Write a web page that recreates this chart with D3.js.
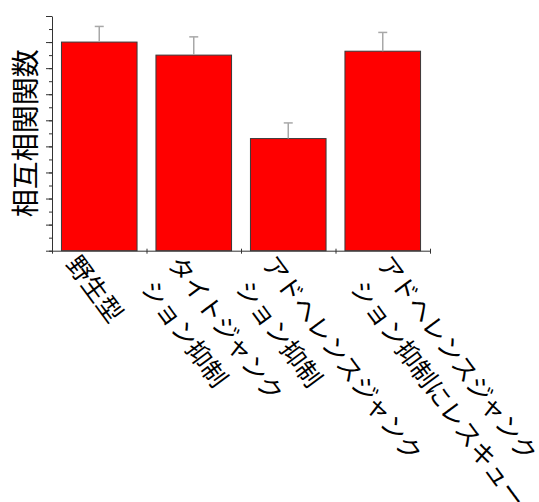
<!DOCTYPE html>
<html>
<head>
<meta charset="utf-8">
<script src="https://cdnjs.cloudflare.com/ajax/libs/d3/7.8.5/d3.min.js"></script>
<style>
  body { margin: 0; background: #fff; }
  text { font-family: "Noto Sans CJK JP", "Noto Sans", sans-serif; fill: #000; }
  .axis path, .axis line { stroke: #333; }
</style>
</head>
<body>
<div id="chart"></div>
<script>

        // data
        var categories = ["野生型", "タイトジャンクション抑制", "アドヘレンスジャンクション抑制", "アドヘレンスジャンクション抑制にレスキュー"];
        var labelLines = [
            ["野生型"],
            ["タイトジャンク", "ション抑制"],
            ["アドヘレンスジャンク", "ション抑制"],
            ["アドヘレンスジャンク", "ション抑制にレスキュー"]
        ];
        var values = [8.0, 7.5, 4.3, 7.65];
        var errors = [0.6, 0.7, 0.6, 0.72];
        var yTitle = "相互相関関数";

        var fullwidth = 539;
        var fullheight = 502;
        var margin = {top: 16, right: 109, bottom: 251.3, left: 52};

        var width = fullwidth - margin.left - margin.right;
        var height = fullheight - margin.top - margin.bottom;

        var svg = d3.select("#chart")
                    .append("svg")
                    .attr("width", fullwidth)
                    .attr("height", fullheight)
                    .append("g")
                    .attr("transform", "translate(" + margin.left + "," + margin.top + ")");

        var xScale = d3.scaleBand()
                        .domain(categories)
                        .range([0, width])
                        .paddingInner(0.2)
                        .paddingOuter(0.1);

        var yScale = d3.scaleLinear()
                        .domain([0, 9])
                        .range([height, 0]);

        // bars
        svg.selectAll("rect.bar")
            .data(categories)
            .enter()
            .append("rect")
            .attr("class", "bar")
            .attr("x", function(d) { return xScale(d); })
            .attr("y", function(d, i) { return yScale(values[i]); })
            .attr("width", xScale.bandwidth())
            .attr("height", function(d, i) { return height - yScale(values[i]); })
            .attr("fill", "#ff0000")
            .attr("stroke", "#3a3a3a")
            .attr("stroke-width", 1);

        // error bars (upper only)
        var errG = svg.selectAll("g.err")
            .data(categories)
            .enter()
            .append("g")
            .attr("class", "err")
            .attr("stroke", "#a8a8a8")
            .attr("stroke-width", 1.5);

        errG.append("line")
            .attr("x1", function(d) { return xScale(d) + xScale.bandwidth() / 2; })
            .attr("x2", function(d) { return xScale(d) + xScale.bandwidth() / 2; })
            .attr("y1", function(d, i) { return yScale(values[i]); })
            .attr("y2", function(d, i) { return yScale(values[i] + errors[i]); });

        errG.append("line")
            .attr("x1", function(d) { return xScale(d) + xScale.bandwidth() / 2 - 4.5; })
            .attr("x2", function(d) { return xScale(d) + xScale.bandwidth() / 2 + 4.5; })
            .attr("y1", function(d, i) { return yScale(values[i] + errors[i]); })
            .attr("y2", function(d, i) { return yScale(values[i] + errors[i]); });

        // y axis: major ticks every 1, minor every 0.5, no labels
        var yAxisMinor = d3.axisLeft(yScale)
                        .tickValues(d3.range(0, 9.01, 0.5))
                        .tickSize(3)
                        .tickSizeOuter(0)
                        .tickFormat("");

        var yAxisMajor = d3.axisLeft(yScale)
                        .tickValues(d3.range(0, 9.01, 1))
                        .tickSize(6)
                        .tickSizeOuter(0)
                        .tickFormat("");

        svg.append("g")
            .attr("class", "y axis")
            .call(yAxisMinor);

        svg.append("g")
            .attr("class", "y axis")
            .call(yAxisMajor)
            .select(".domain").remove();

        // x axis: ticks at the band boundaries
        var xEdges = d3.scaleLinear().domain([0, categories.length]).range([0, width]);

        var xAxis = d3.axisBottom(xEdges)
                        .tickValues(d3.range(0, categories.length + 1))
                        .tickSize(3)
                        .tickSizeOuter(0)
                        .tickFormat("");

        var xAxisG = svg.append("g")
            .attr("class", "x axis")
            .attr("transform", "translate(0," + height + ")")
            .call(xAxis);

        xAxisG.selectAll(".tick line").attr("y1", -2);

        // rotated category labels
        var fontSize = 25;
        var lineHeight = 36;
        var angle = 53.5;

        var labels = svg.selectAll("g.xlabel")
            .data(categories)
            .enter()
            .append("g")
            .attr("class", "xlabel")
            .attr("transform", function(d, i) {
                var lines = labelLines[i];
                var lastLen = lines[lines.length - 1].length;
                var x0 = xScale(d) + xScale.bandwidth() / 2 - 35.4 + 3.4 * lastLen;
                return "translate(" + x0 + "," + (height + 7) + ") rotate(" + angle + ")";
            })
            .append("text")
            .attr("font-size", fontSize)
            .attr("dominant-baseline", "central");

        labels.selectAll("tspan")
            .data(function(d, i) { return labelLines[i]; })
            .enter()
            .append("tspan")
            .attr("x", function(d, j) { return j * 4; })
            .attr("y", function(d, j) { return j * lineHeight; })
            .text(function(d) { return d; });

        // y title
        svg.append("text")
            .attr("transform", "translate(" + (23.5 - margin.left) + "," + (height / 2) + ") rotate(-90)")
            .attr("text-anchor", "middle")
            .attr("dominant-baseline", "central")
            .attr("font-size", 28)
            .text(yTitle);

</script>
</body>
</html>
